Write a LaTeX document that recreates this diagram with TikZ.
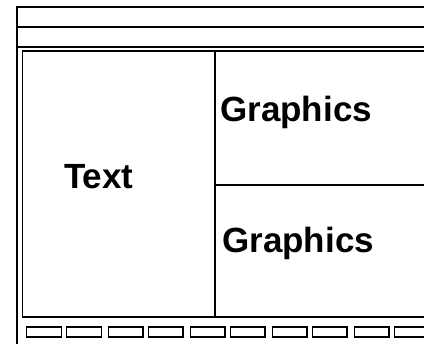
\documentclass[tikz,border=0pt]{standalone}
\usepackage{fontspec}
\setmainfont{Liberation Sans}
\begin{document}
\begin{tikzpicture}[x=1pt,y=-1pt,
  frame/.style={draw=black,line width=1.4pt},
  label/.style={font=\fontsize{35}{38}\selectfont\bfseries,inner sep=0pt,anchor=base west},
  pad/.style={draw=black,line width=1.4pt}]
\useasboundingbox (0,0) rectangle (424,344);
\clip (0,0) rectangle (424,344);
% outer frame
\draw[frame] (424,7) -- (17,7) -- (17,350);
\draw[frame] (17,27) -- (430,27);
\draw[frame] (17,47) -- (430,47);
% inner panel
\draw[frame] (440,51) -- (22.5,51) -- (22.5,317) -- (440,317);
\draw[frame] (215,51) -- (215,317);
\draw[frame] (215,185) -- (430,185);
% labels
\node[label] (txt) at (64,189) {Text};
\node[label] (g1) at (220,122) {Graphics};
\node[label] (g2) at (222,253) {Graphics};
% bottom pads
\foreach \i in {0,...,4} {
  \draw[pad] ({26.7+81.9*\i},327) rectangle ++(34.5,10);
  \draw[pad] ({66.7+81.9*\i},327) rectangle ++(34.5,10);
}
\end{tikzpicture}
\end{document}
